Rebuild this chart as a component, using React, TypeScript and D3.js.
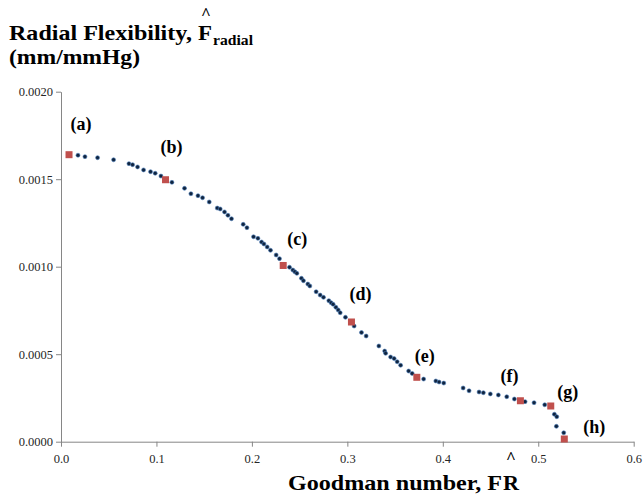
import React, { useEffect, useRef } from 'react';
import * as d3 from 'd3';

// Goodman number (x) vs radial flexibility (y), blue dots
const goodmanX = [
  0.0178, 0.0251, 0.0383, 0.0551, 0.0712, 0.075, 0.0802, 0.0865, 0.0938, 0.0987, 0.1047,
  0.1162, 0.1294, 0.1361, 0.1435, 0.1483, 0.1553, 0.1637, 0.1668, 0.1713, 0.1749, 0.1786,
  0.1909, 0.1948, 0.2017, 0.2063, 0.2101, 0.2126, 0.216, 0.2195, 0.2254, 0.2289,
  0.2394, 0.2429, 0.245, 0.2471, 0.2519, 0.254, 0.2586, 0.2607, 0.2673, 0.2715, 0.275,
  0.2806, 0.283, 0.2851, 0.288, 0.2904, 0.2925, 0.298,
  0.3071, 0.3148, 0.3197, 0.333, 0.3391, 0.3401, 0.3453, 0.349, 0.3522, 0.3558, 0.3642, 0.3679,
  0.3799, 0.3927, 0.3961, 0.401, 0.4213, 0.4275, 0.438, 0.4425, 0.4498, 0.4582, 0.467, 0.475,
  0.4862, 0.4956, 0.5068, 0.5169, 0.5194, 0.519, 0.5267,
];
const flexY = [
  0.001637, 0.001629, 0.001623, 0.001611, 0.001589, 0.001583, 0.00157, 0.001553, 0.001543, 0.001534, 0.001518,
  0.001482, 0.001448, 0.001417, 0.001406, 0.001394, 0.00137, 0.001335, 0.00133, 0.001313, 0.001294, 0.001274,
  0.001242, 0.001223, 0.001171, 0.001162, 0.001141, 0.00113, 0.001113, 0.001094, 0.001067, 0.001046,
  0.000997, 0.000981, 0.000971, 0.000962, 0.000934, 0.00092, 0.000901, 0.00089, 0.000857, 0.000838, 0.000825,
  0.000806, 0.000794, 0.000785, 0.000768, 0.000753, 0.000737, 0.000711,
  0.000661, 0.000624, 0.000604, 0.000547, 0.000518, 0.000505, 0.000484, 0.000475, 0.000457, 0.000437, 0.000404, 0.00039,
  0.000358, 0.000347, 0.000341, 0.000335, 0.000307, 0.000291, 0.000284, 0.00028, 0.000273, 0.000267, 0.000257, 0.000244,
  0.000229, 0.000223, 0.000211, 0.000157, 0.000143, 0.000088, 0.000051,
];

// Highlighted cases (a)-(h), red squares
const markerX = [0.0084, 0.1095, 0.2328, 0.3043, 0.3728, 0.4813, 0.5131, 0.5273];
const markerY = [0.00164, 0.001497, 0.001007, 0.000684, 0.000368, 0.000234, 0.000204, 0.0000154];
const markerLabels = ['(a)', '(b)', '(c)', '(d)', '(e)', '(f)', '(g)', '(h)'];
// label offsets from each marker, in px
const labelDx = [12, 6, 14, 9, 8, -11, 17, 30];
const labelDy = [-25, -27, -20, -22, -15, -19, -8, -6];

const xTicks = [0, 0.1, 0.2, 0.3, 0.4, 0.5, 0.6];
const yTicks = [0, 0.0005, 0.001, 0.0015, 0.002];

const SERIF = '"Liberation Serif", "Times New Roman", Times, "DejaVu Serif", serif';

const App = () => {
  const svgRef = useRef<SVGSVGElement>(null);

  useEffect(() => {
    const svg = d3.select(svgRef.current);
    svg.selectAll('*').remove();

    const W = 644;
    const H = 501;

    const x = d3.scaleLinear().domain([0, 0.6]).range([61, 633.7]);
    const y = d3.scaleLinear().domain([0, 0.002]).range([441.7, 91.7]);

    svg.attr('width', W).attr('height', H).attr('viewBox', `0 0 ${W} ${H}`)
      .attr('font-family', SERIF);

    // Axes
    const xAxis = svg.append('g')
      .attr('transform', `translate(0,${y(0)})`)
      .call(d3.axisBottom(x).tickValues(xTicks).tickSize(5).tickSizeOuter(0).tickFormat(d3.format('.1f')));
    const yAxis = svg.append('g')
      .attr('transform', `translate(${x(0)},0)`)
      .call(d3.axisLeft(y).tickValues(yTicks).tickSize(5).tickSizeOuter(0).tickFormat(d3.format('.4f')));

    [xAxis, yAxis].forEach(a => {
      a.attr('font-family', SERIF).attr('font-size', 12.5);
      a.select('.domain').attr('stroke', '#868686').attr('stroke-width', 1);
      a.selectAll('.tick line').attr('stroke', '#868686');
      a.selectAll('.tick text').attr('fill', '#262626');
    });
    xAxis.selectAll('.tick text').attr('dy', '1.1em');
    yAxis.selectAll('.tick text').attr('x', -8);

    // Blue data dots
    const pts = goodmanX.map((gx, i) => ({ gx, fy: flexY[i] }));
    svg.append('g')
      .selectAll('circle')
      .data(pts)
      .enter().append('circle')
      .attr('cx', d => x(d.gx))
      .attr('cy', d => y(d.fy))
      .attr('r', 2)
      .attr('fill', '#10243f')
      .attr('stroke', '#4f81bd')
      .attr('stroke-width', 0.6);

    // Red markers with labels
    const marks = markerX.map((mx, i) => ({ mx, my: markerY[i], label: markerLabels[i], i }));
    svg.append('g')
      .selectAll('rect')
      .data(marks)
      .enter().append('rect')
      .attr('x', d => x(d.mx) - 3.5)
      .attr('y', d => y(d.my) - 3.5)
      .attr('width', 7)
      .attr('height', 7)
      .attr('fill', '#c0504d');

    svg.append('g')
      .selectAll('text')
      .data(marks)
      .enter().append('text')
      .attr('x', d => x(d.mx) + labelDx[d.i])
      .attr('y', d => y(d.my) + labelDy[d.i])
      .attr('text-anchor', 'middle')
      .attr('font-weight', 'bold')
      .attr('font-size', 18)
      .text(d => d.label);

    const hat = (hx: number, baseline: number) => {
      svg.append('text')
        .attr('x', hx)
        .attr('y', baseline)
        .attr('text-anchor', 'middle')
        .attr('font-weight', 'bold')
        .attr('font-size', 17)
        .text('^');
    };

    // Y axis title (widths pinned to the reference layout)
    const yTitle = svg.append('text')
      .attr('y', 40)
      .attr('font-weight', 'bold')
      .attr('font-size', 21.5);
    yTitle.append('tspan').attr('x', 9).attr('textLength', 183).attr('lengthAdjust', 'spacingAndGlyphs')
      .text('Radial Flexibility,');
    yTitle.append('tspan').attr('x', 198).attr('textLength', 14).attr('lengthAdjust', 'spacingAndGlyphs')
      .text('F');
    yTitle.append('tspan').attr('x', 213).attr('dy', 5).attr('font-size', 15)
      .attr('textLength', 40).attr('lengthAdjust', 'spacingAndGlyphs').text('radial');
    hat(206, 19);

    svg.append('text')
      .attr('x', 9)
      .attr('y', 64)
      .attr('font-weight', 'bold')
      .attr('font-size', 21.5)
      .attr('textLength', 131)
      .attr('lengthAdjust', 'spacingAndGlyphs')
      .text('(mm/mmHg)');

    // X axis title
    const xTitle = svg.append('text')
      .attr('y', 490)
      .attr('font-weight', 'bold')
      .attr('font-size', 22);
    xTitle.append('tspan').attr('x', 288).attr('textLength', 214).attr('lengthAdjust', 'spacingAndGlyphs')
      .text('Goodman number, F');
    xTitle.append('tspan').attr('x', 503).attr('textLength', 16).attr('lengthAdjust', 'spacingAndGlyphs')
      .text('R');
    hat(511, 463);
  }, []);

  return (
    <svg ref={svgRef} style={{ position: 'absolute', left: 0, top: 0, background: '#fff' }}></svg>
  );
};

export default App;
